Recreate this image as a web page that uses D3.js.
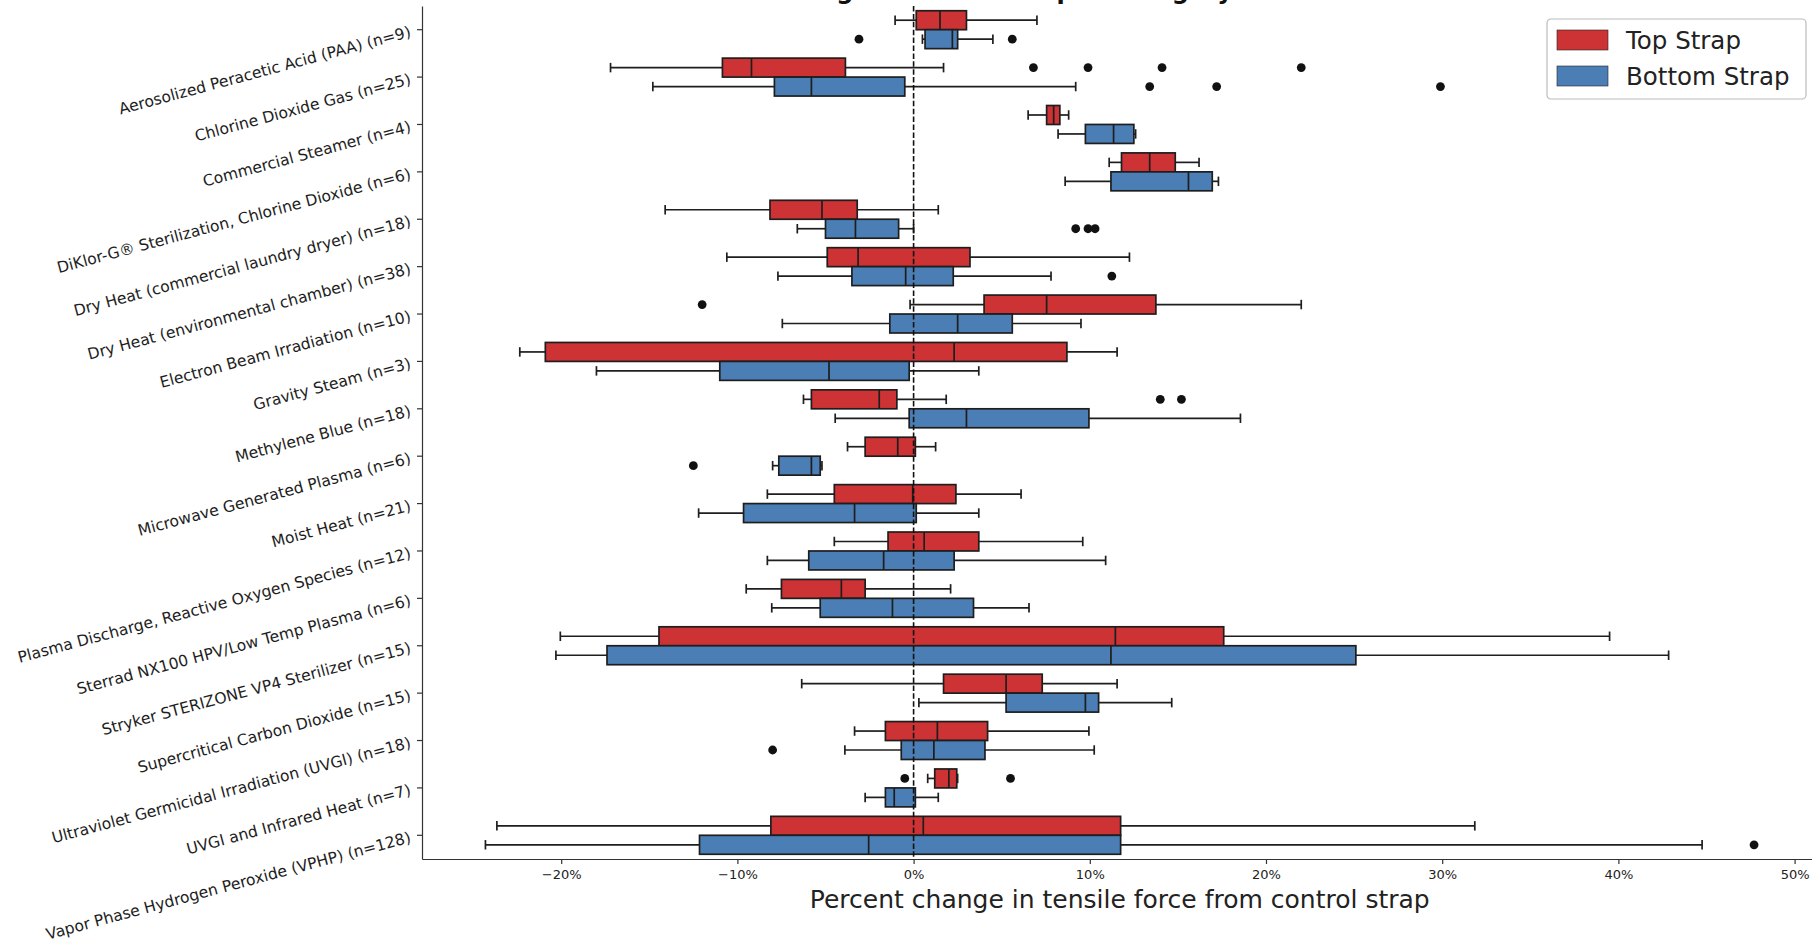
<!DOCTYPE html>
<html>
<head>
<meta charset="utf-8">
<script src="https://cdn.jsdelivr.net/npm/d3@7/dist/d3.min.js"></script>
<style>
  body { margin: 0; background: #fff; }
  svg { display: block; font-family: "DejaVu Sans", sans-serif; }
</style>
</head>
<body>
<div id="chart"></div>
<script>
// categories (top to bottom) and sample counts
const categories = [
  "Aerosolized Peracetic Acid (PAA)", "Chlorine Dioxide Gas", "Commercial Steamer",
  "DiKlor-G\u00ae Sterilization, Chlorine Dioxide", "Dry Heat (commercial laundry dryer)",
  "Dry Heat (environmental chamber)", "Electron Beam Irradiation", "Gravity Steam",
  "Methylene Blue", "Microwave Generated Plasma", "Moist Heat",
  "Plasma Discharge, Reactive Oxygen Species", "Sterrad NX100 HPV/Low Temp Plasma",
  "Stryker STERIZONE VP4 Sterilizer", "Supercritical Carbon Dioxide",
  "Ultraviolet Germicidal Irradiation (UVGI)", "UVGI and Infrared Heat",
  "Vapor Phase Hydrogen Peroxide (VPHP)"
];
const counts = [9, 25, 4, 6, 18, 38, 10, 3, 18, 6, 21, 12, 6, 15, 15, 18, 7, 128];

const seriesNames = ["Top Strap", "Bottom Strap"];
const seriesColors = ["#cd3234", "#4a7eb5"];

// [whisker low, Q1, median, Q3, whisker high] in percent
const topStats = [
  [-1.05, 0.15, 1.5, 3.0, 7.0],
  [-17.2, -10.85, -9.2, -3.87, 1.7],
  [6.5, 7.55, 7.95, 8.3, 8.8],
  [11.1, 11.8, 13.4, 14.85, 16.2],
  [-14.1, -8.15, -5.2, -3.2, 1.4],
  [-10.6, -4.9, -3.15, 3.2, 12.25],
  [-0.2, 4.0, 7.55, 13.75, 22.0],
  [-22.35, -20.9, 2.3, 8.7, 11.55],
  [-6.25, -5.8, -1.95, -0.95, 1.85],
  [-3.75, -2.75, -0.9, 0.1, 1.25],
  [-8.3, -4.5, -0.05, 2.4, 6.1],
  [-4.5, -1.45, 0.6, 3.7, 9.6],
  [-9.5, -7.5, -4.1, -2.75, 2.1],
  [-20.05, -14.45, 11.45, 17.6, 39.5],
  [-6.35, 1.7, 5.25, 7.3, 11.55],
  [-3.35, -1.6, 1.35, 4.2, 9.95],
  [0.8, 1.2, 2.0, 2.45, 2.5],
  [-23.65, -8.1, 0.55, 11.75, 31.85]
];
const topOutliers = [
  [], [6.8, 9.9, 14.1, 22.0], [], [], [], [], [-12.0], [], [14.0, 15.2],
  [], [], [], [], [], [], [], [-0.5, 5.5], []
];

const bottomStats = [
  [0.5, 0.65, 2.2, 2.5, 4.5],
  [-14.8, -7.9, -5.8, -0.5, 9.2],
  [8.2, 9.75, 11.35, 12.5, 12.6],
  [8.6, 11.2, 15.6, 16.95, 17.3],
  [-6.6, -5.0, -3.3, -0.85, 0.0],
  [-7.7, -3.5, -0.45, 2.25, 7.8],
  [-7.45, -1.35, 2.5, 5.6, 9.5],
  [-18.0, -11.0, -4.8, -0.25, 3.7],
  [-4.45, -0.25, 3.0, 9.95, 18.55],
  [-8.0, -7.65, -5.8, -5.3, -5.2],
  [-12.2, -9.65, -3.35, 0.15, 3.7],
  [-8.3, -5.95, -1.7, 2.3, 10.9],
  [-8.05, -5.3, -1.2, 3.4, 6.55],
  [-20.3, -17.4, 11.2, 25.1, 42.85],
  [0.3, 5.25, 9.75, 10.5, 14.65],
  [-3.9, -0.7, 1.15, 4.05, 10.25],
  [-2.75, -1.6, -1.1, 0.1, 1.4],
  [-24.3, -12.15, -2.55, 11.75, 44.75]
];
const bottomOutliers = [
  [-3.1, 5.6], [13.4, 17.2, 29.9], [], [], [9.2, 9.9, 10.3], [11.25], [], [], [],
  [-12.5], [], [], [], [], [], [-8.0], [], [47.7]
];

const xTicks = [-20, -10, 0, 10, 20, 30, 40, 50];
const xDomain = [-27.9, 51.3];

const titleText = "Degradation Level per Category of Method";
const xLabel = "Percent change in tensile force from control strap";

const width = 1812, height = 940;
const margin = { t: 6, l: 422, b: 81 };

const labels = categories.map((c, i) => c + " (n=" + counts[i] + ")");

const svg = d3.select("#chart").append("svg")
  .attr("width", width)
  .attr("height", height)
  .attr("viewBox", "0 0 " + width + " " + height);

const x = d3.scaleLinear()
  .domain(xDomain)
  .range([margin.l, margin.l + (xDomain[1] - xDomain[0]) * 17.62]);

const y = d3.scaleBand()
  .domain(labels)
  .range([margin.t, height - margin.b])
  .padding(0);

const bw = y.bandwidth();
const boxH = bw * 0.4;
const ink = "#1e1e1e";
const lw = 1.7;

// title sits mostly above the visible area, as in the source picture
svg.append("text")
  .attr("x", 800)
  .attr("y", -1.5)
  .attr("font-size", 24)
  .attr("font-weight", "bold")
  .attr("fill", "#111")
  .text(titleText);

const series = [
  { name: seriesNames[0], color: seriesColors[0], stats: topStats, out: topOutliers, off: -boxH },
  { name: seriesNames[1], color: seriesColors[1], stats: bottomStats, out: bottomOutliers, off: 0 }
];

const plot = svg.append("g");

series.forEach(s => {
  const g = plot.append("g");
  const rows = labels.map((l, i) => ({ label: l, st: s.stats[i], out: s.out[i] }));

  const box = g.selectAll("g.box")
    .data(rows)
    .enter().append("g")
    .attr("class", "box")
    .attr("transform", d => "translate(0," + (y(d.label) + bw / 2 + s.off) + ")");

  // whiskers
  box.append("line")
    .attr("x1", d => x(d.st[0])).attr("x2", d => x(d.st[1]))
    .attr("y1", boxH / 2).attr("y2", boxH / 2)
    .attr("stroke", ink).attr("stroke-width", lw);
  box.append("line")
    .attr("x1", d => x(d.st[3])).attr("x2", d => x(d.st[4]))
    .attr("y1", boxH / 2).attr("y2", boxH / 2)
    .attr("stroke", ink).attr("stroke-width", lw);

  // caps
  [0, 4].forEach(k => {
    box.append("line")
      .attr("x1", d => x(d.st[k])).attr("x2", d => x(d.st[k]))
      .attr("y1", boxH / 4).attr("y2", boxH * 3 / 4)
      .attr("stroke", ink).attr("stroke-width", lw);
  });

  box.append("rect")
    .attr("x", d => x(d.st[1]))
    .attr("width", d => x(d.st[3]) - x(d.st[1]))
    .attr("y", 0)
    .attr("height", boxH)
    .attr("fill", s.color)
    .attr("stroke", ink)
    .attr("stroke-width", lw);

  // median
  box.append("line")
    .attr("x1", d => x(d.st[2])).attr("x2", d => x(d.st[2]))
    .attr("y1", 0).attr("y2", boxH)
    .attr("stroke", ink).attr("stroke-width", lw);

  // outliers
  box.selectAll("circle")
    .data(d => d.out)
    .enter().append("circle")
    .attr("cx", d => x(d))
    .attr("cy", boxH / 2)
    .attr("r", 4.4)
    .attr("fill", "#111");
});

// reference line at 0%
svg.append("line")
  .attr("x1", x(0)).attr("x2", x(0))
  .attr("y1", margin.t).attr("y2", height - margin.b)
  .attr("stroke", "#111")
  .attr("stroke-width", 1.6)
  .attr("stroke-dasharray", "5.5,2.4");

// axes
const xAxis = svg.append("g")
  .attr("transform", "translate(0," + (height - margin.b) + ")")
  .call(d3.axisBottom(x)
    .tickValues(xTicks)
    .tickFormat(d => (d < 0 ? "\u2212" : "") + Math.abs(d) + "%")
    .tickSize(5)
    .tickSizeOuter(0)
    .tickPadding(6));

xAxis.selectAll("text")
  .attr("font-family", "DejaVu Sans")
  .attr("font-size", 13)
  .attr("fill", "#222");

const yAxis = svg.append("g")
  .attr("transform", "translate(" + margin.l + ",0)")
  .call(d3.axisLeft(y).tickSize(5).tickSizeOuter(0));

yAxis.selectAll("text")
  .attr("x", 0)
  .attr("dy", "0.45em")
  .attr("transform", "translate(-12,0) rotate(-15)")
  .attr("text-anchor", "end")
  .attr("font-family", "DejaVu Sans")
  .attr("font-size", 15.6)
  .attr("fill", "#1e1e1e");

svg.selectAll(".domain, .tick line")
  .attr("stroke", "#333")
  .attr("stroke-width", 1.2);

svg.append("text")
  .attr("x", (margin.l + x.range()[1]) / 2)
  .attr("y", 908)
  .attr("text-anchor", "middle")
  .attr("font-size", 25)
  .attr("fill", "#222")
  .text(xLabel);

// legend
const legend = svg.append("g").attr("transform", "translate(1547,19)");
legend.append("rect")
  .attr("width", 259).attr("height", 80)
  .attr("rx", 4)
  .attr("fill", "#fff")
  .attr("stroke", "#bbb")
  .attr("stroke-width", 1.2);

const item = legend.selectAll("g.item")
  .data(series)
  .enter().append("g")
  .attr("class", "item")
  .attr("transform", (d, i) => "translate(10," + (11 + i * 36) + ")");

item.append("rect")
  .attr("width", 51).attr("height", 20)
  .attr("fill", d => d.color)
  .attr("stroke", "#222")
  .attr("stroke-width", 0.6);

item.append("text")
  .attr("x", 69)
  .attr("y", 10)
  .attr("dy", "0.36em")
  .attr("font-size", 24.5)
  .attr("fill", "#222")
  .text(d => d.name);
</script>
</body>
</html>
